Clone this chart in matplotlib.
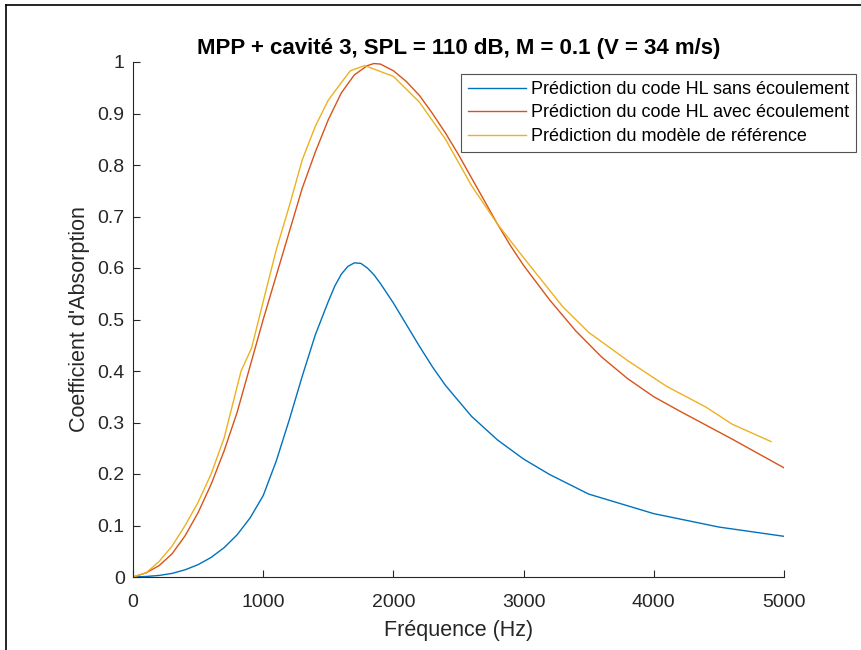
import matplotlib
matplotlib.use('Agg')
import matplotlib.pyplot as plt
from matplotlib.lines import Line2D

plt.rcParams['font.family'] = ['Liberation Sans', 'DejaVu Sans']

# HL code, no flow
f_sans = [0, 100, 200, 300, 400, 500, 600, 700, 800, 900, 1000, 1100, 1200, 1300,
          1400, 1500, 1550, 1600, 1650, 1700, 1750, 1800, 1850, 1900, 2000, 2100,
          2200, 2300, 2400, 2600, 2800, 3000, 3200, 3500, 4000, 4500, 5000]
a_sans = [0, 0.001, 0.003, 0.007, 0.014, 0.024, 0.038, 0.057, 0.082, 0.115, 0.158,
          0.225, 0.305, 0.39, 0.47, 0.535, 0.565, 0.588, 0.603, 0.61, 0.609, 0.6,
          0.587, 0.57, 0.532, 0.49, 0.448, 0.408, 0.372, 0.312, 0.266, 0.229, 0.199,
          0.161, 0.123, 0.097, 0.079]

# HL code, with flow
f_avec = [0, 100, 200, 300, 400, 500, 600, 700, 800, 900, 1000, 1100, 1200, 1300,
          1400, 1500, 1600, 1700, 1800, 1850, 1900, 2000, 2100, 2200, 2300, 2400,
          2500, 2600, 2700, 2800, 2900, 3000, 3200, 3400, 3600, 3800, 4000, 4200,
          4400, 4600, 4800, 5000]
a_avec = [0, 0.008, 0.022, 0.045, 0.08, 0.125, 0.18, 0.245, 0.32, 0.41, 0.5, 0.585,
          0.67, 0.755, 0.825, 0.888, 0.94, 0.975, 0.993, 0.997, 0.996, 0.983, 0.962,
          0.935, 0.9, 0.862, 0.82, 0.775, 0.73, 0.685, 0.643, 0.605, 0.538, 0.478,
          0.427, 0.385, 0.35, 0.322, 0.295, 0.268, 0.24, 0.212]

# reference model
f_ref = [0, 100, 200, 300, 400, 500, 600, 700, 830, 910, 1000, 1100, 1200, 1300,
         1400, 1500, 1600, 1670, 1780, 2000, 2200, 2400, 2600, 2800, 3000, 3300,
         3500, 3800, 4100, 4400, 4600, 4900]
a_ref = [0, 0.008, 0.03, 0.06, 0.1, 0.145, 0.2, 0.27, 0.4, 0.444, 0.535, 0.635, 0.72,
         0.81, 0.875, 0.926, 0.96, 0.983, 0.993, 0.972, 0.922, 0.85, 0.76, 0.685,
         0.62, 0.525, 0.475, 0.42, 0.37, 0.33, 0.297, 0.263]

labels = ['Prédiction du code HL sans écoulement',
          'Prédiction du code HL avec écoulement',
          'Prédiction du modèle de référence']
colors = ['#0072BD', '#D95319', '#EDB120']

fig = plt.figure(figsize=(8.62, 6.5), dpi=100)
ax = fig.add_axes([133 / 862, 73 / 650, 651 / 862, 515 / 650])

ax.plot(f_sans, a_sans, color=colors[0], lw=1.0, label=labels[0])
ax.plot(f_avec, a_avec, color=colors[1], lw=1.0, label=labels[1])
ax.plot(f_ref, a_ref, color=colors[2], lw=1.0, label=labels[2])

ax.set_xlim(0, 5000)
ax.set_ylim(0, 1)
ax.set_xticks([0, 1000, 2000, 3000, 4000, 5000])
ax.set_yticks([0, 0.1, 0.2, 0.3, 0.4, 0.5, 0.6, 0.7, 0.8, 0.9, 1])
ax.set_yticklabels(['0', '0.1', '0.2', '0.3', '0.4', '0.5', '0.6', '0.7', '0.8', '0.9', '1'])
ax.spines['top'].set_visible(False)
ax.spines['right'].set_visible(False)
for s in ['left', 'bottom']:
    ax.spines[s].set_color('#262626')
    ax.spines[s].set_linewidth(0.8)
ax.tick_params(direction='in', length=5, width=0.8, colors='#262626', labelsize=14)
ax.tick_params(axis='x', pad=12)
ax.tick_params(axis='y', pad=6)

ax.set_xlabel('Fréquence (Hz)', fontsize=15.5, color='#262626', labelpad=7)
ax.set_ylabel("Coefficient d'Absorption", fontsize=15.5, color='#262626', labelpad=5)
ax.set_title('MPP + cavité 3, SPL = 110 dB, M = 0.1 (V = 34 m/s)',
             fontsize=16, fontweight='bold', pad=6)

leg = fig.legend(loc='upper left', bbox_to_anchor=(461 / 862, 1 - 74 / 650),
                 fontsize=13, frameon=True, fancybox=False, handlelength=3.2,
                 handletextpad=0.3, borderpad=0.38, labelspacing=0.36,
                 borderaxespad=0)
leg.get_frame().set_edgecolor('#262626')
leg.get_frame().set_linewidth(0.8)

# screenshot frame lines (top and left)
fig.add_artist(Line2D([6 / 862, 1], [1 - 5 / 650, 1 - 5 / 650],
                      transform=fig.transFigure, color='black', lw=1.2))
fig.add_artist(Line2D([6 / 862, 6 / 862], [0, 1 - 5 / 650],
                      transform=fig.transFigure, color='black', lw=1.2))

fig.savefig('out.png', dpi=100)
